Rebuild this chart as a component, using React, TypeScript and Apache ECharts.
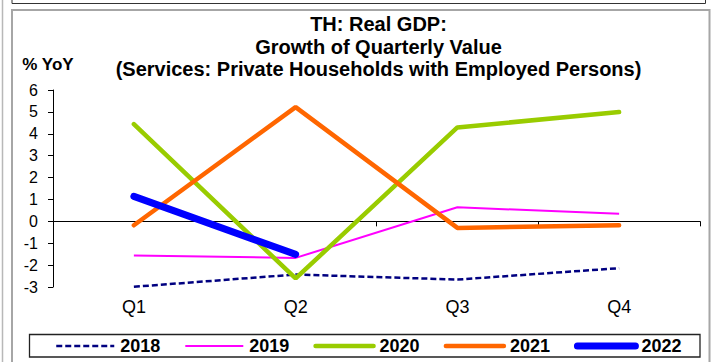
import React, { useEffect, useRef } from "react";
import * as echarts from "echarts";

const categories = ["Q1", "Q2", "Q3", "Q4"];
const s2018 = [-2.99, -2.43, -2.66, -2.14];
const s2019 = [-1.56, -1.67, 0.64, 0.35];
const s2020 = [4.44, -2.61, 4.29, 4.99];
const s2021 = [-0.18, 5.22, -0.3, -0.18];
const s2022 = [1.14, -1.51];
const yTicks = { min: -3, max: 6, interval: 1 };
const titleLines = [
  "TH: Real GDP:",
  "Growth of Quarterly Value",
  "(Services: Private Households with Employed Persons)",
];
const yAxisName = "% YoY";
const seriesNames = ["2018", "2019", "2020", "2021", "2022"];

const FONT = "'Liberation Sans', Arial, sans-serif";

const styles: Record<string, any> = {
  "2018": { color: "#000080", width: 2.5, type: [6, 3] },
  "2019": { color: "#ff00ff", width: 2 },
  "2020": { color: "#99cc00", width: 4.5, cap: "round" },
  "2021": { color: "#ff6600", width: 4.5, cap: "round" },
  "2022": { color: "#0000ff", width: 7, cap: "round" },
};
const values: Record<string, number[]> = {
  "2018": s2018,
  "2019": s2019,
  "2020": s2020,
  "2021": s2021,
  "2022": s2022,
};

export default function App() {
  const ref = useRef<HTMLDivElement>(null);
  useEffect(() => {
    if (!ref.current) return;
    const chart = echarts.init(ref.current, null, { renderer: "svg" });
    chart.setOption({
      animation: false,
      backgroundColor: "#ffffff",
      textStyle: { fontFamily: FONT },
      title: {
        text: titleLines.join("\n"),
        left: 378.5,
        top: 13,
        padding: 0,
        textAlign: "center",
        textStyle: {
          fontFamily: FONT,
          fontSize: 20,
          fontWeight: "bold",
          color: "#000",
          lineHeight: 22.5,
        },
      },
      graphic: [
        {
          type: "line",
          shape: { x1: 2.5, y1: 0, x2: 2.5, y2: 362 },
          style: { stroke: "#b8b8b8", lineWidth: 1.5 },
          silent: true,
        },
        {
          type: "polyline",
          shape: { points: [[12, 0], [12, 3.5], [705.5, 3.5], [705.5, 0]] },
          style: { stroke: "#333", lineWidth: 1, fill: "none" },
          silent: true,
        },
        {
          type: "rect",
          shape: { x: 12, y: 10, width: 697.5, height: 400 },
          style: { stroke: "#a6a6a6", lineWidth: 2, fill: "none" },
          silent: true,
        },
        {
          type: "rect",
          shape: { x: 29.5, y: 334.5, width: 670.5, height: 22.5 },
          style: { stroke: "#222", lineWidth: 1.3, fill: "#fff" },
          silent: true,
        },
      ],
      legend: {
        left: 55,
        top: 337,
        itemWidth: 58,
        itemHeight: 18,
        itemGap: 24,
        padding: 0,
        itemStyle: { opacity: 0 },
        textStyle: {
          fontFamily: FONT,
          fontSize: 18,
          fontWeight: "bold",
          color: "#000",
          padding: [0, 0, 0, 1],
        },
        data: seriesNames.map((n) => ({
          name: n,
          itemStyle: { opacity: 0 },
          lineStyle: {
            color: styles[n].color,
            width: styles[n].width,
            type: styles[n].type || "solid",
            cap: styles[n].cap || "butt",
          },
        })),
      },
      grid: { left: 53, right: 12, top: 90, bottom: 75, containLabel: false },
      xAxis: [
        {
          type: "category",
          data: categories,
          boundaryGap: true,
          axisLine: { show: true, onZero: true, lineStyle: { color: "#000", width: 1 } },
          axisTick: { show: true, length: 5, lineStyle: { color: "#000" } },
          axisLabel: { show: false },
          splitLine: { show: false },
        },
        {
          type: "category",
          data: categories,
          boundaryGap: true,
          position: "bottom",
          axisLine: { show: false, onZero: false },
          axisTick: { show: false },
          axisLabel: {
            show: true,
            margin: 11,
            fontFamily: FONT,
            fontSize: 18,
            color: "#000",
          },
          splitLine: { show: false },
        },
      ],
      yAxis: {
        type: "value",
        min: yTicks.min,
        max: yTicks.max,
        interval: yTicks.interval,
        name: yAxisName,
        nameLocation: "end",
        nameGap: 17,
        nameTextStyle: {
          fontFamily: FONT,
          fontSize: 17,
          fontWeight: "bold",
          color: "#000",
          align: "center",
          padding: [0, 10, 0, 0],
        },
        axisLine: { show: true, lineStyle: { color: "#000", width: 1 } },
        axisTick: { show: true, length: 5, lineStyle: { color: "#000" } },
        axisLabel: { margin: 15, fontFamily: FONT, fontSize: 16, color: "#000" },
        splitLine: { show: false },
      },
      series: seriesNames.map((n) => ({
        name: n,
        type: "line",
        data: values[n],
        symbol: "none",
        color: styles[n].color,
        lineStyle: {
          color: styles[n].color,
          width: styles[n].width,
          type: styles[n].type || "solid",
          cap: styles[n].cap || "butt",
        },
      })),
    });
    return () => chart.dispose();
  }, []);
  return (
    <div
      ref={ref}
      style={{ position: "absolute", left: 0, top: 0, width: 712, height: 362, background: "#fff" }}
    />
  );
}
